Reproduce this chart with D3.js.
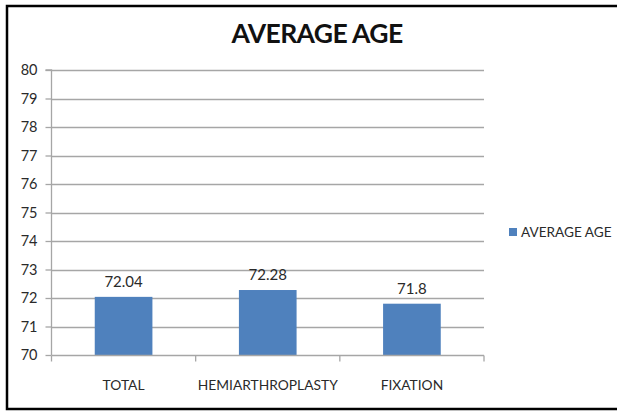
<!DOCTYPE html>
<html>
<head>
<meta charset="utf-8">
<script src="https://cdn.jsdelivr.net/npm/d3@7"></script>
<style>
html,body{margin:0;padding:0;background:#fff;}
svg{display:block;}
</style>
</head>
<body>
<svg id="chart" width="617" height="412"></svg>
<script>
const categories = ["TOTAL", "HEMIARTHROPLASTY", "FIXATION"];
const values = [72.04, 72.28, 71.8];
const valueLabels = ["72.04", "72.28", "71.8"];
const yTicks = [70, 71, 72, 73, 74, 75, 76, 77, 78, 79, 80];
const seriesName = "AVERAGE AGE";
const title = "AVERAGE AGE";

(function () {
const svg = d3.select("#chart");
const font = "Lato, 'Open Sans', sans-serif";
const textColor = "#2a2a2a";

// outer border
svg.append("rect").attr("x", 7).attr("y", 6).attr("width", 620).attr("height", 403)
  .attr("fill", "none").attr("stroke", "#000").attr("stroke-width", 2.5);

const pLeft = 51.5, pRight = 484, pTop = 70, pBottom = 355;
const x = d3.scaleBand().domain(categories).range([pLeft, pRight]).paddingInner(0.6).paddingOuter(0.3);
const xb = d3.scaleBand().domain(categories).range([pLeft, pRight]);
const y = d3.scaleLinear().domain([70, 80]).range([pBottom, pTop]);

// gridlines
svg.append("g").selectAll("line").data(yTicks.slice(1)).join("line")
  .attr("x1", pLeft).attr("x2", pRight)
  .attr("y1", d => Math.round(y(d)) + 0.5).attr("y2", d => Math.round(y(d)) + 0.5)
  .attr("stroke", "#a6a6a6").attr("stroke-width", 1.3);

// bars
svg.append("g").selectAll("rect").data(values).join("rect")
  .attr("x", (d, i) => x(categories[i]))
  .attr("width", x.bandwidth())
  .attr("y", d => y(d))
  .attr("height", d => y(70) - y(d))
  .attr("fill", "#4f81bd");

// y axis
const yAxis = d3.axisLeft(y).tickValues(yTicks).tickSize(6).tickPadding(8).tickFormat(d3.format("d"));
const gy = svg.append("g").attr("transform", `translate(${pLeft},0)`).call(yAxis);
gy.select(".domain").attr("stroke", "#a6a6a6").attr("stroke-width", 1.3).attr("d", `M-6,${pTop}H0V${pBottom}`);
gy.selectAll(".tick line").attr("stroke", "#a6a6a6").attr("stroke-width", 1.3);
gy.selectAll(".tick text").attr("font-family", font).attr("font-size", 14.5).attr("fill", textColor);

// x axis
const gx = svg.append("g").attr("transform", `translate(0,${Math.round(pBottom)+0.5})`);
gx.append("line").attr("x1", pLeft).attr("x2", pRight).attr("stroke", "#a6a6a6").attr("stroke-width", 1.3);
const bounds = categories.map(c => xb(c)).concat([pRight]);
gx.selectAll("line.t").data(bounds).join("line").attr("class", "t")
  .attr("x1", d => d).attr("x2", d => d).attr("y1", 0).attr("y2", 6)
  .attr("stroke", "#a6a6a6").attr("stroke-width", 1.3);
gx.selectAll("text").data(categories).join("text")
  .attr("x", d => xb(d) + xb.bandwidth() / 2).attr("y", 34)
  .attr("text-anchor", "middle").attr("font-family", font).attr("font-size", 13.8)
  .attr("fill", textColor).text(d => d);

// value labels
svg.append("g").selectAll("text").data(values).join("text")
  .attr("x", (d, i) => x(categories[i]) + x.bandwidth() / 2)
  .attr("y", d => y(d) - 10)
  .attr("text-anchor", "middle").attr("font-family", font).attr("font-size", 15)
  .attr("fill", textColor).text((d, i) => valueLabels[i]);

// title
svg.append("text").attr("x", 317).attr("y", 43).attr("text-anchor", "middle")
  .attr("font-family", font).attr("font-weight", "bold").attr("font-size", 26.5)
  .attr("fill", "#111").attr("letter-spacing", -0.6).text(title);

// legend
svg.append("rect").attr("x", 509).attr("y", 228).attr("width", 8).attr("height", 8).attr("fill", "#4f81bd");
svg.append("text").attr("x", 521).attr("y", 237).attr("font-family", font).attr("font-size", 13.6)
  .attr("fill", textColor).text(seriesName);
})();
</script>
</body>
</html>
